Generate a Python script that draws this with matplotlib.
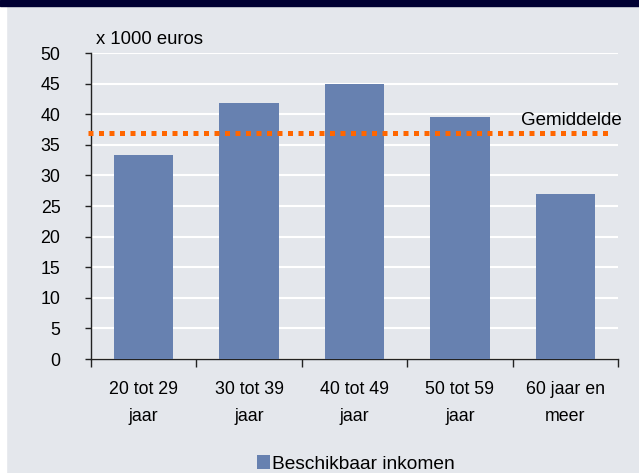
import matplotlib
matplotlib.use("Agg")
import matplotlib.pyplot as plt
from matplotlib.patches import Rectangle
import numpy as np

categories = ["20 tot 29\njaar", "30 tot 39\njaar", "40 tot 49\njaar", "50 tot 59\njaar", "60 jaar en\nmeer"]
values = [33.4, 41.8, 44.9, 39.6, 27.0]
average = 37.0
series_name = "Beschikbaar inkomen"
avg_label = "Gemiddelde"
unit_label = "x 1000 euros"
yticks = [0, 5, 10, 15, 20, 25, 30, 35, 40, 45, 50]

W, H = 639, 473
plt.rcParams['font.family'] = ['Liberation Sans', 'DejaVu Sans']
fig = plt.figure(figsize=(W / 100, H / 100), dpi=100)
bg = '#E4E7EC'
fig.patch.set_facecolor(bg)
# top navy band and left white strip
fig.add_artist(Rectangle((0, 0), 6 / W, 1, transform=fig.transFigure, color='white', zorder=0))
fig.add_artist(Rectangle((0, 1 - 6 / H), 1, 6 / H, transform=fig.transFigure, color='#000033', zorder=1))

ax = fig.add_axes([91 / W, 1 - 359 / H, (618 - 91) / W, (359 - 53) / H])
ax.set_facecolor(bg)

x = np.arange(len(categories))
bars = ax.bar(x, values, width=0.565, color='#6781B0', zorder=3, label=series_name)

ax.set_xlim(-0.5, len(categories) - 0.5)
ax.set_ylim(0, 50)
ax.set_yticks(yticks)
ax.yaxis.grid(True, color='white', linewidth=1.5, zorder=0)
ax.set_axisbelow(True)

for s in ['top', 'right']:
    ax.spines[s].set_visible(False)
for s in ['left', 'bottom']:
    ax.spines[s].set_color('#222222')
    ax.spines[s].set_linewidth(1.0)

ax.tick_params(axis='y', direction='out', length=4, width=1, color='#222222', pad=18, labelsize=12.8)
ax.set_xticks(x)
ax.set_xticklabels(categories, fontsize=12.8, linespacing=1.75)
ax.set_xticks(np.arange(-0.5, len(categories), 1.0), minor=True)
ax.tick_params(axis='x', which='major', length=0, pad=16)
ax.tick_params(axis='x', which='minor', length=6, width=1, color='#222222')

# average dotted line (extends slightly outside the axes on the left)
ax.plot([-0.53, 4.45], [average, average], color='#FF6600', linewidth=3.6,
        linestyle=(0, (1, 1.1)), dash_capstyle='butt', clip_on=False, zorder=4)
ax.text(4.535, average + 2.0, avg_label, ha='right', va='center', fontsize=13.5, color='black', clip_on=False)

fig.text(96 / W, 1 - 40 / H, unit_label, ha='left', va='center', fontsize=13.3)

fig.legend(handles=[bars], labels=[series_name], loc='center', bbox_to_anchor=(356 / W, 1 - 464 / H),
           frameon=False, fontsize=13.8, handlelength=0.68, handleheight=0.68, handletextpad=0.12,
           borderpad=0, borderaxespad=0)

fig.savefig('out.png', dpi=100, facecolor=fig.get_facecolor())
